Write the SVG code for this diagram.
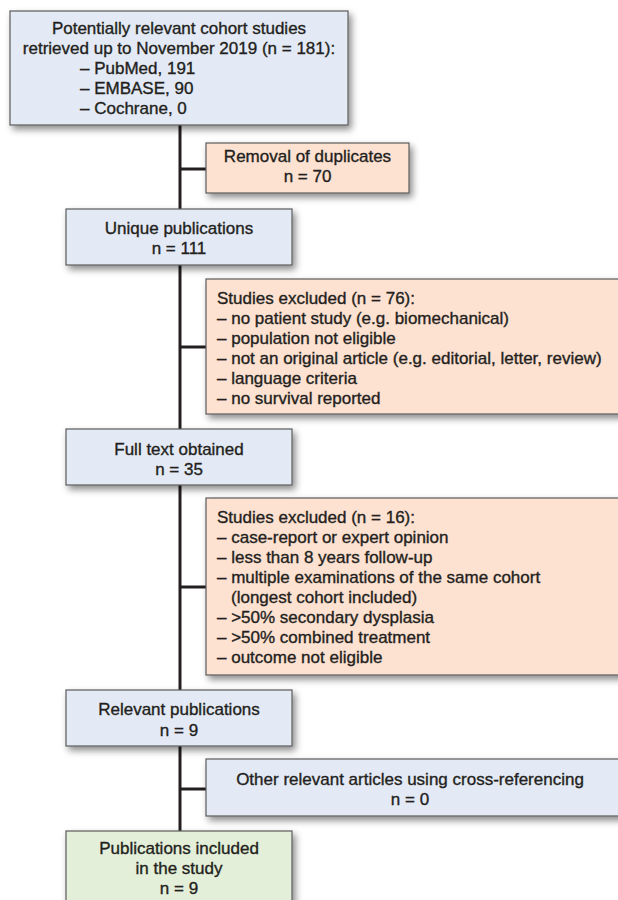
<svg xmlns="http://www.w3.org/2000/svg" width="618" height="900" viewBox="0 0 618 900">
<defs>
<filter id="sh" x="-10%" y="-20%" width="130%" height="160%">
<feDropShadow dx="3" dy="4" stdDeviation="3.5" flood-color="#000" flood-opacity="0.45"/>
</filter>
</defs>
<style>
.box{stroke:#5a5a5a;stroke-width:1.2;filter:url(#sh)}
.blue{fill:#e4eaf5}
.peach{fill:#fde1d1}
.green{fill:#e3efd8}
text{font-family:"Liberation Sans",Arial,sans-serif;font-size:17px;fill:#231f20;stroke:#231f20;stroke-width:0.35}
.c{text-anchor:middle}
.conn{stroke:#231f20;stroke-width:3;fill:none}
</style>
<rect width="618" height="900" fill="#fff"/>
<g id="connectors">
<line class="conn" x1="180" y1="125" x2="180" y2="209"/>
<line class="conn" x1="180" y1="169" x2="206" y2="169"/>
<line class="conn" x1="180" y1="265" x2="180" y2="429"/>
<line class="conn" x1="180" y1="347" x2="206" y2="347"/>
<line class="conn" x1="180" y1="485" x2="180" y2="690"/>
<line class="conn" x1="180" y1="587" x2="206" y2="587"/>
<line class="conn" x1="180" y1="746" x2="180" y2="831"/>
<line class="conn" x1="180" y1="789" x2="206" y2="789"/>
</g>
<g id="n1">
<rect class="box blue" x="10" y="11" width="338" height="114"/>
<text class="c" x="179" y="34">Potentially relevant cohort studies</text>
<text class="c" x="179" y="54">retrieved up to November 2019 (n = 181):</text>
<text x="80" y="74">– PubMed, 191</text>
<text x="80" y="94">– EMBASE, 90</text>
<text x="80" y="114">– Cochrane, 0</text>
</g>
<g id="n2">
<rect class="box peach" x="206" y="143" width="203" height="50"/>
<text class="c" x="307.5" y="162">Removal of duplicates</text>
<text class="c" x="307.5" y="182">n = 70</text>
</g>
<g id="n3">
<rect class="box blue" x="66" y="209" width="226" height="56"/>
<text class="c" x="179" y="234">Unique publications</text>
<text class="c" x="179" y="254">n = 111</text>
</g>
<g id="n4">
<rect class="box peach" x="206" y="279" width="420" height="135"/>
<text x="217" y="304">Studies excluded (n = 76):</text>
<text x="217" y="324">– no patient study (e.g. biomechanical)</text>
<text x="217" y="344">– population not eligible</text>
<text x="217" y="364">– not an original article (e.g. editorial, letter, review)</text>
<text x="217" y="384">– language criteria</text>
<text x="217" y="404">– no survival reported</text>
</g>
<g id="n5">
<rect class="box blue" x="66" y="429" width="226" height="56"/>
<text class="c" x="179" y="455">Full text obtained</text>
<text class="c" x="179" y="475">n = 35</text>
</g>
<g id="n6">
<rect class="box peach" x="206" y="498" width="420" height="177"/>
<text x="217" y="523">Studies excluded (n = 16):</text>
<text x="217" y="543">– case-report or expert opinion</text>
<text x="217" y="563">– less than 8 years follow-up</text>
<text x="217" y="583">– multiple examinations of the same cohort</text>
<text x="231" y="603">(longest cohort included)</text>
<text x="217" y="623">– &gt;50% secondary dysplasia</text>
<text x="217" y="643">– &gt;50% combined treatment</text>
<text x="217" y="663">– outcome not eligible</text>
</g>
<g id="n7">
<rect class="box blue" x="66" y="690" width="226" height="56"/>
<text class="c" x="179" y="715">Relevant publications</text>
<text class="c" x="179" y="736">n = 9</text>
</g>
<g id="n8">
<rect class="box blue" x="206" y="759" width="420" height="57"/>
<text class="c" x="410" y="785">Other relevant articles using cross-referencing</text>
<text class="c" x="410" y="805">n = 0</text>
</g>
<g id="n9">
<rect class="box green" x="66" y="831" width="226" height="80"/>
<text class="c" x="179" y="854">Publications included</text>
<text class="c" x="179" y="874">in the study</text>
<text class="c" x="179" y="894">n = 9</text>
</g>
</svg>
